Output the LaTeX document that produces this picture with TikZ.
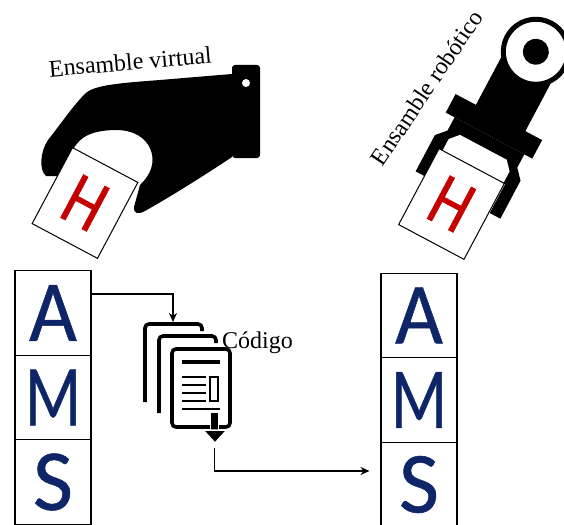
\documentclass[tikz,border=0pt]{standalone}
\usepackage{fontspec}
\setmainfont{Liberation Serif}
\newfontfamily\calib{Carlito}[FakeBold=0.6]
\usetikzlibrary{positioning,arrows.meta}
\definecolor{amsblue}{RGB}{14,38,104}
\definecolor{hred}{RGB}{196,0,0}
\newcommand{\narrow}[2][0.8]{\scalebox{#1}[1]{#2}}

\begin{document}
\begin{tikzpicture}[x=1pt, y=-1pt, node distance=84.5pt, >={Stealth[length=9pt,width=8pt]},
        every node/.style={font=\rmfamily\fontsize{24}{24}\selectfont},
        letterbox/.style={draw, line width=1.1pt, minimum width=76pt, minimum height=84.5pt, inner sep=0pt, text=amsblue, font=\calib\fontsize{87}{87}\selectfont},
        card/.style={draw, line width=1pt, fill=white, minimum width=74pt, minimum height=86pt, inner sep=0pt, text=hred, font=\calib\fontsize{76}{76}\selectfont},
        page/.style={line width=3.6pt, rounded corners=4pt}]
    \useasboundingbox (0,0) rectangle (564,524);

    % hand with cuff
    \fill (232,74) -- (160,80) .. controls (120,83) and (95,85) .. (86,93) .. controls (75,103) and (60,125) .. (48,140) .. controls (40,152) and (39,170) .. (46,176) -- (60,176) -- (73,150) .. controls (80,135) and (95,130) .. (118,130) .. controls (145,131) and (155,150) .. (152,165) .. controls (150,175) and (143,182) .. (140,185) -- (134,207) .. controls (133,213) and (138,215) .. (145,211) .. controls (170,197) and (205,175) .. (232,157) -- cycle;
    \fill[rounded corners=3pt] (232,65) rectangle (260,158);
    \fill[white] (246,83) circle (4);
    \node[card, rotate=-28] (hcard) at (85,203) {\narrow{H}};
    \node[anchor=base, rotate=5] (virt) at (131,70) {Ensamble virtual};

    % gripper
    \begin{scope}[shift={(451.5,204)}, rotate=-28, yscale=-1]
        \fill (-25,95) rectangle (31,160);
        \fill (-48,78) rectangle (50,99);
        \fill (-38,78) -- (-38,63) -- (-47,53) -- (-47,12) -- (-37,12) -- (-37,43) -- (38,43) -- (38,10) -- (50,10) -- (50,53) -- (41,63) -- (41,78) -- cycle;
        \fill[white] (-33,43) -- (-33,56) -- (-25,65) -- (28,65) -- (36,56) -- (36,43) -- cycle;
        \draw[line width=5pt, fill=white] (3,174) circle (32.5);
        \fill (3,174) circle (13);
    \end{scope}
    \node[card, rotate=-28] (rcard) at (451.5,204) {\narrow{H}};
    \node[anchor=base west, rotate=56] (robo) at (381,170) {Ensamble robótico};

    \node[letterbox] (lA) at (53,313) {\narrow[0.95]{A}};
    \node[letterbox, below of=lA] (lM) {\narrow[0.75]{M}};
    \node[letterbox, below of=lM] (lS) {\narrow[1.0]{S}};

    \node[letterbox] (rA) at (419,315.5) {\narrow[0.95]{A}};
    \node[letterbox, below of=rA] (rM) {\narrow[0.75]{M}};
    \node[letterbox, below of=rM] (rS) {\narrow[1.0]{S}};

    % stack of code pages
    \coordinate (docIn) at (173,322);
    \coordinate (docOut) at (214.5,448);
    \draw[page] (145,402) -- (145,324) -- (202,324) -- (202,331);
    \draw[page] (159,413) -- (159,336) -- (216,336) -- (216,343);
    \draw[page, fill=white] (172,349) rectangle (230,427);
    \draw[line width=3.5pt] (182,362) -- (220,362);
    \foreach \y in {377,385,393,401}
        \draw[line width=2.5pt] (182,\y) -- (206,\y);
    \draw[line width=1.5pt] (210,377) rectangle (218,401);
    \draw[line width=2pt] (182,409) -- (220,409);
    \filldraw[draw=white, line width=1.5pt] (210.5,412) rectangle (218.5,431);
    \filldraw[draw=white, line width=1.5pt] (203,430) -- (227,430) -- (215,443) -- cycle;
    \node[anchor=base west, inner sep=0pt] (code) at (222,348) {Código};

    \draw[->, line width=1.8pt] ([yshift=19pt]lA.east) -| (docIn);
    \draw[->, line width=1.8pt, shorten >=11pt] (docOut) |- ([yshift=13.5pt]rS.west);
\end{tikzpicture}
\end{document}
